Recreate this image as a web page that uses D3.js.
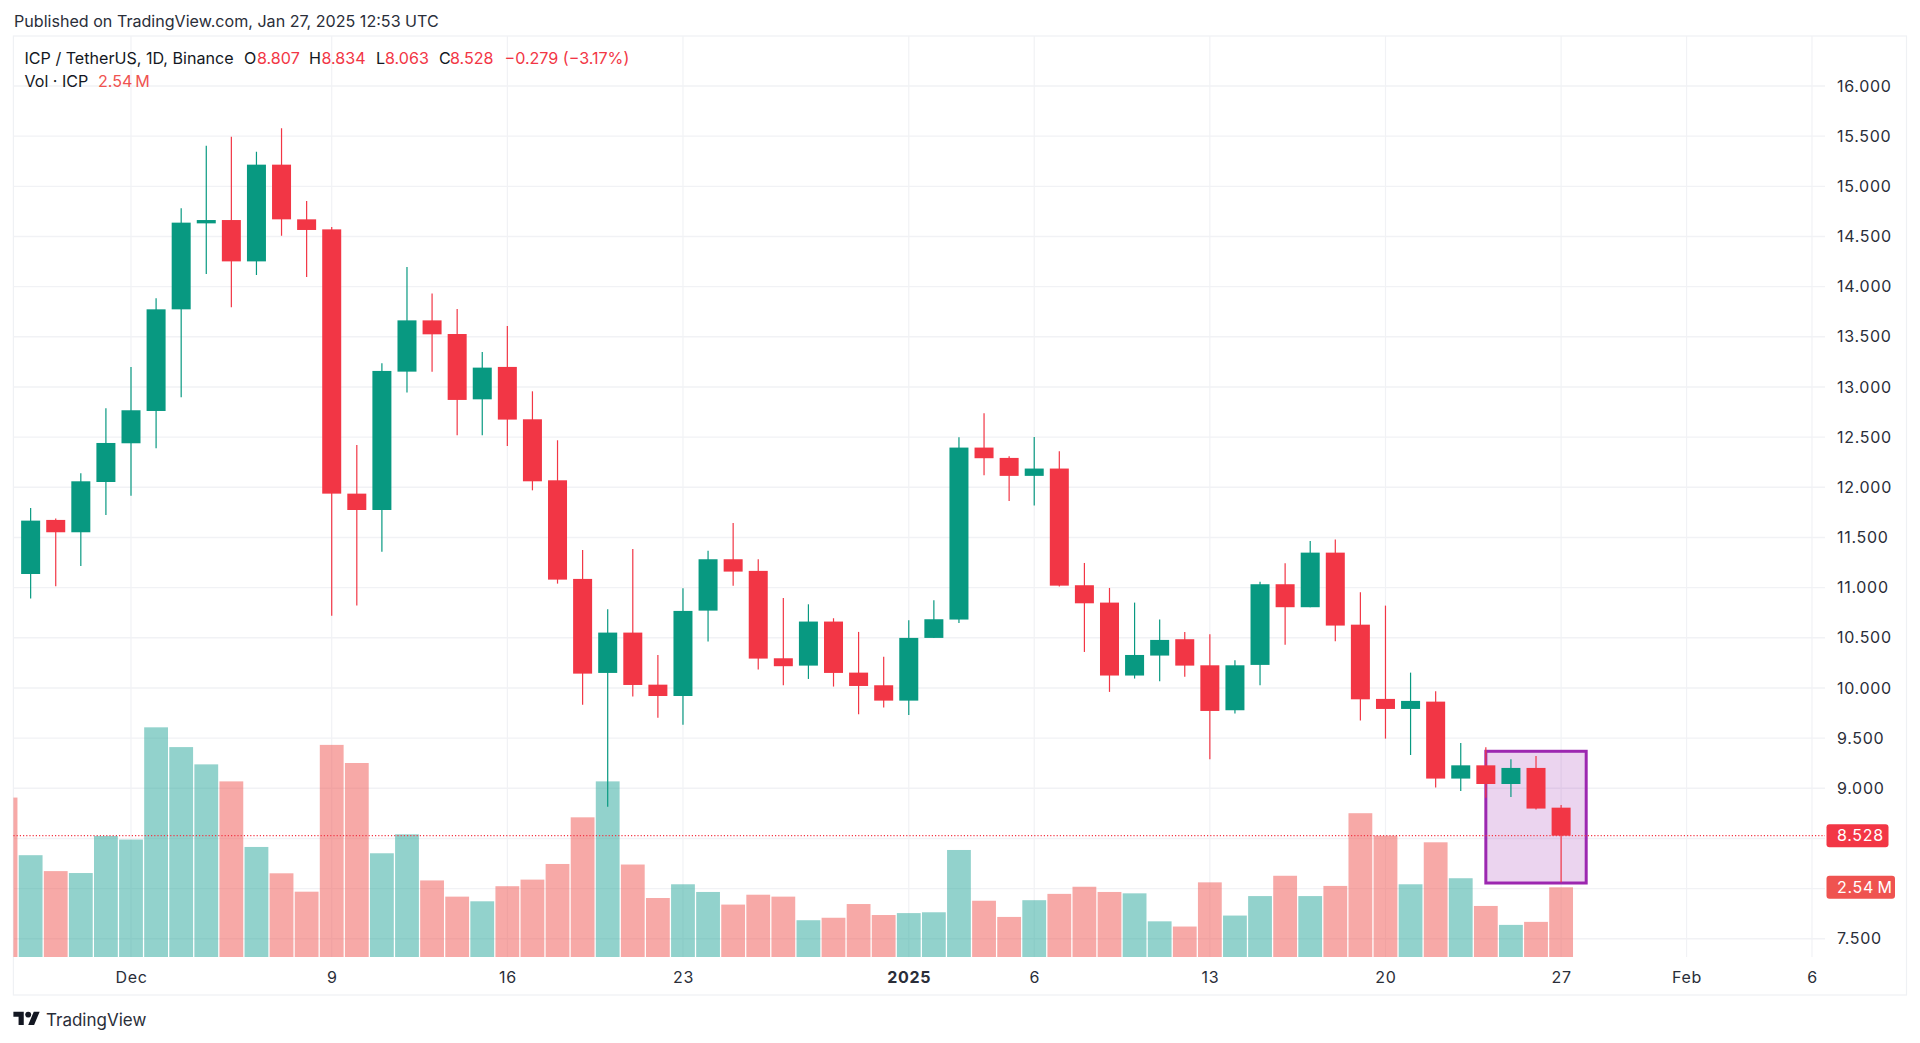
<!DOCTYPE html>
<html>
<head>
<meta charset="utf-8">
<title>ICP / TetherUS</title>
<script src="https://cdn.jsdelivr.net/npm/d3@7/dist/d3.min.js"></script>
<style>
  html, body { margin: 0; padding: 0; background: #fff; }
  svg { display: block; }
  text { font-family: Inter, "Noto Sans", sans-serif; fill: #131722; }
</style>
</head>
<body>
<svg id="chart" width="1920" height="1043"></svg>
<script>
const firstDay = '2024-11-27';
const lastDay = '2025-01-27';

// daily candles from Nov 27 to Jan 27
const opens = [11.136, 11.675, 11.552, 12.053, 12.439, 12.761, 13.774, 14.631, 14.664, 14.252, 15.216, 14.671, 14.571, 11.937, 11.774, 13.153, 13.664, 13.528, 12.877, 13.200, 12.678, 12.070, 11.087, 10.150, 10.552, 10.033, 9.920, 10.771, 11.283, 11.167, 10.296, 10.223, 10.662, 10.153, 10.027, 9.874, 10.499, 10.682, 12.396, 12.293, 12.114, 12.187, 11.024, 10.851, 10.124, 10.323, 10.486, 10.226, 9.778, 10.230, 11.034, 10.805, 11.349, 10.631, 9.891, 9.791, 9.864, 9.097, 9.229, 9.043, 9.203, 8.807];
const highs = [11.794, 11.688, 12.140, 12.788, 13.200, 13.884, 14.781, 15.405, 15.495, 15.345, 15.578, 14.854, 14.595, 12.422, 13.236, 14.196, 13.933, 13.777, 13.349, 13.608, 12.957, 12.469, 11.376, 10.784, 11.386, 10.329, 10.994, 11.369, 11.645, 11.283, 10.898, 10.834, 10.695, 10.559, 10.310, 10.675, 10.874, 12.499, 12.738, 12.310, 12.502, 12.359, 11.246, 10.997, 10.851, 10.682, 10.559, 10.535, 10.276, 11.060, 11.243, 11.466, 11.479, 10.954, 10.821, 10.153, 9.967, 9.452, 9.409, 9.289, 9.323, 8.834];
const lows = [10.891, 11.013, 11.216, 11.724, 11.917, 12.389, 12.897, 14.126, 13.794, 14.116, 14.508, 14.096, 10.721, 10.821, 11.359, 12.944, 13.153, 12.518, 12.518, 12.412, 11.970, 11.040, 9.833, 8.817, 9.914, 9.704, 9.634, 10.462, 11.020, 10.183, 10.027, 10.090, 10.014, 9.738, 9.805, 9.731, 10.499, 10.648, 12.120, 11.864, 11.818, 11.011, 10.359, 9.961, 10.094, 10.067, 10.113, 9.289, 9.745, 10.027, 10.432, 10.805, 10.465, 9.675, 9.495, 9.332, 9.007, 8.974, 8.907, 8.914, 8.788, 8.063];
const closes = [11.668, 11.552, 12.060, 12.442, 12.768, 13.774, 14.638, 14.664, 14.252, 15.216, 14.671, 14.565, 11.937, 11.774, 13.160, 13.664, 13.525, 12.871, 13.193, 12.675, 12.060, 11.080, 10.143, 10.552, 10.030, 9.920, 10.768, 11.283, 11.160, 10.293, 10.217, 10.662, 10.150, 10.020, 9.874, 10.499, 10.685, 12.396, 12.290, 12.114, 12.187, 11.020, 10.844, 10.124, 10.329, 10.479, 10.223, 9.771, 10.226, 11.034, 10.805, 11.349, 10.622, 9.887, 9.791, 9.871, 9.097, 9.229, 9.043, 9.203, 8.798, 8.528];
// volume in millions, one for each candle
const volumes = [3.71, 3.13, 3.06, 4.41, 4.28, 8.37, 7.65, 7.02, 6.40, 4.01, 3.05, 2.38, 7.73, 7.07, 3.78, 4.47, 2.79, 2.20, 2.03, 2.58, 2.82, 3.39, 5.09, 6.40, 3.37, 2.15, 2.65, 2.37, 1.91, 2.27, 2.20, 1.34, 1.43, 1.93, 1.53, 1.60, 1.63, 3.90, 2.05, 1.46, 2.07, 2.30, 2.56, 2.37, 2.32, 1.30, 1.11, 2.72, 1.51, 2.22, 2.96, 2.22, 2.59, 5.24, 4.42, 2.65, 4.18, 2.87, 1.86, 1.17, 1.28, 2.54];
// the bar of Nov 26 is cut by the left edge and has no candle on screen
const partialVolumeDay = '2024-11-26';
const partialVolume = 5.81;

const priceTicks = [7.5, 8, 8.5, 9, 9.5, 10, 10.5, 11, 11.5, 12, 12.5, 13, 13.5, 14, 14.5, 15, 15.5, 16];
const hiddenPriceLabels = [8, 8.5];
const timeTicks = ['2024-12-01', '2024-12-09', '2024-12-16', '2024-12-23', '2025-01-01', '2025-01-06', '2025-01-13', '2025-01-20', '2025-01-27', '2025-02-01', '2025-02-06'];
const timeLabels = ['Dec', '9', '16', '23', '2025', '6', '13', '20', '27', 'Feb', '6'];
const boxDays = ['2025-01-24', '2025-01-28'];
const boxPrices = [9.369, 8.056];
const lastPrice = 8.528;
const lastVolume = 2.54;

const UP = '#089981', DOWN = '#f23645';
const UP_VOL = '#26a69a', DOWN_VOL = '#ef5350';
const GRID = '#f1f2f5';

const pane = { left: 13.4, right: 1825, top: 36, bottom: 957 };
const frame = { right: 1906.5, bottom: 995 };

const svg = d3.select('#chart');
const day = s => new Date(s + 'T00:00:00Z');
const days = d3.utcDay.range(day(firstDay), d3.utcDay.offset(day(lastDay), 1));

const x = d3.scaleUtc().domain([day('2024-12-01'), day('2025-02-06')]).range([131, 1812]);
const y = d3.scaleLinear().domain([7.5, 16]).range([938.8, 86]);
const yVol = d3.scaleLinear().domain([0, 10]).range([957, 682.6]);

const candles = days.map((d, i) => ({
  date: d, open: opens[i], high: highs[i], low: lows[i], close: closes[i], volume: volumes[i],
  up: closes[i] >= opens[i]
}));
const volumeBars = [{ date: day(partialVolumeDay), volume: partialVolume, up: false }].concat(candles);

svg.append('clipPath').attr('id', 'pane-clip').append('rect')
  .attr('x', pane.left).attr('y', pane.top)
  .attr('width', pane.right - pane.left).attr('height', pane.bottom - pane.top);

// header
svg.append('text').attr('x', 14).attr('y', 27).style('font-size', '16.1px').style('fill', '#2a2e39')
  .text('Published on TradingView.com, Jan 27, 2025 12:53 UTC');

// frame
svg.append('rect')
  .attr('x', pane.left).attr('y', pane.top)
  .attr('width', frame.right - pane.left).attr('height', frame.bottom - pane.top)
  .attr('fill', 'none').attr('stroke', '#eff1f4').attr('stroke-width', 1.2);

// grid
svg.append('g').selectAll('line').data(priceTicks).join('line')
  .attr('x1', pane.left).attr('x2', pane.right)
  .attr('y1', d => y(d)).attr('y2', d => y(d))
  .attr('stroke', GRID).attr('stroke-width', 1.4);
svg.append('g').selectAll('line').data(timeTicks).join('line')
  .attr('x1', d => x(day(d))).attr('x2', d => x(day(d)))
  .attr('y1', pane.top).attr('y2', pane.bottom)
  .attr('stroke', GRID).attr('stroke-width', 1.2);

// volume
const plot = svg.append('g').attr('clip-path', 'url(#pane-clip)');
const volWidth = 23.8;
plot.append('g').selectAll('rect').data(volumeBars).join('rect')
  .attr('x', d => x(d.date) - volWidth / 2)
  .attr('y', d => yVol(d.volume))
  .attr('width', volWidth)
  .attr('height', d => yVol(0) - yVol(d.volume))
  .attr('fill', d => d.up ? UP_VOL : DOWN_VOL)
  .attr('fill-opacity', 0.5);

// highlighted box
plot.append('rect')
  .attr('x', x(day(boxDays[0])))
  .attr('y', y(boxPrices[0]))
  .attr('width', x(day(boxDays[1])) - x(day(boxDays[0])))
  .attr('height', y(boxPrices[1]) - y(boxPrices[0]))
  .attr('fill', '#9c27b0').attr('fill-opacity', 0.2)
  .attr('stroke', '#9c27b0').attr('stroke-width', 3);

// last price line
svg.append('line')
  .attr('x1', pane.left).attr('x2', pane.right)
  .attr('y1', y(lastPrice)).attr('y2', y(lastPrice))
  .attr('stroke', DOWN).attr('stroke-width', 1.2).attr('stroke-dasharray', '1.2 2');

// candles
const bodyWidth = 19;
const candle = plot.append('g').selectAll('g').data(candles).join('g');
candle.append('line')
  .attr('x1', d => x(d.date)).attr('x2', d => x(d.date))
  .attr('y1', d => y(d.high)).attr('y2', d => y(d.low))
  .attr('stroke', d => d.up ? UP : DOWN).attr('stroke-width', 1.2);
candle.append('rect')
  .attr('x', d => x(d.date) - bodyWidth / 2)
  .attr('y', d => y(Math.max(d.open, d.close)))
  .attr('width', bodyWidth)
  .attr('height', d => Math.max(1, Math.abs(y(d.open) - y(d.close))))
  .attr('fill', d => d.up ? UP : DOWN);

// price axis
const yAxis = svg.append('g').attr('transform', `translate(${pane.right},0)`)
  .call(d3.axisRight(y).tickValues(priceTicks.filter(d => !hiddenPriceLabels.includes(d)))
    .tickFormat(d3.format('.3f')).tickSize(0).tickPadding(12));
yAxis.select('.domain').remove();
yAxis.selectAll('text').style('font-size', '16px').style('letter-spacing', '0.7px')
  .style('fill', '#2a2e39').style('font-family', 'Inter');

// time axis
const xAxis = svg.append('g').attr('transform', `translate(0,${pane.bottom})`)
  .call(d3.axisBottom(x).tickValues(timeTicks.map(day))
    .tickFormat((d, i) => timeLabels[i]).tickSize(0).tickPadding(15));
xAxis.select('.domain').remove();
xAxis.selectAll('text').style('font-size', '16px').style('letter-spacing', '0.7px')
  .style('fill', '#2a2e39').style('font-family', 'Inter')
  .style('font-weight', (d, i) => timeLabels[i] === '2025' ? 700 : 400);

// value tags on the price axis
function priceTag (yPos, width, color, label) {
  svg.append('rect').attr('x', 1826.5).attr('y', yPos - 11.5).attr('width', width).attr('height', 23)
    .attr('rx', 3).attr('fill', color);
  svg.append('text').attr('x', 1837).attr('y', yPos).attr('dy', '0.36em')
    .style('font-size', '16px').style('letter-spacing', '0.7px').style('fill', '#fff').text(label);
}
priceTag(y(lastPrice), 62, DOWN, d3.format('.3f')(lastPrice));
priceTag(yVol(lastVolume), 68.5, DOWN_VOL, `${lastVolume}\u2009M`);

// legend
const legendParts = [
  [24.5, 'ICP / TetherUS, 1D, Binance', '#131722'],
  [244, 'O', '#131722'], [257, d3.format('.3f')(opens[61]), DOWN],
  [309, 'H', '#131722'], [321.4, d3.format('.3f')(highs[61]), DOWN],
  [376, 'L', '#131722'], [385, d3.format('.3f')(lows[61]), DOWN],
  [439, 'C', '#131722'], [450, d3.format('.3f')(closes[61]), DOWN],
  [504.5, '\u22120.279 (\u22123.17%)', DOWN]
];
svg.append('g').selectAll('text').data(legendParts).join('text')
  .attr('x', d => d[0]).attr('y', 63.5)
  .style('font-size', '16.1px').style('fill', d => d[2]).text(d => d[1]);
svg.append('text').attr('x', 24.5).attr('y', 87).style('font-size', '16.1px').text('Vol \u00b7 ICP');
svg.append('text').attr('x', 98).attr('y', 87).style('font-size', '16.1px').style('fill', DOWN_VOL)
  .text(`${lastVolume}\u2009M`);

// TradingView logo
const logo = svg.append('g').attr('transform', 'translate(13.4,1008.7) scale(0.74)').attr('fill', '#131722');
logo.append('path').attr('d', 'M14 22H7V11H0V4h14v18zM28 22h-8l7.5-18h8L28 22z');
logo.append('circle').attr('cx', 20).attr('cy', 8).attr('r', 4);
svg.append('text').attr('x', 46).attr('y', 1026).style('font-size', '17px').style('fill', '#2a2e39').text('TradingView');
</script>
</body>
</html>
